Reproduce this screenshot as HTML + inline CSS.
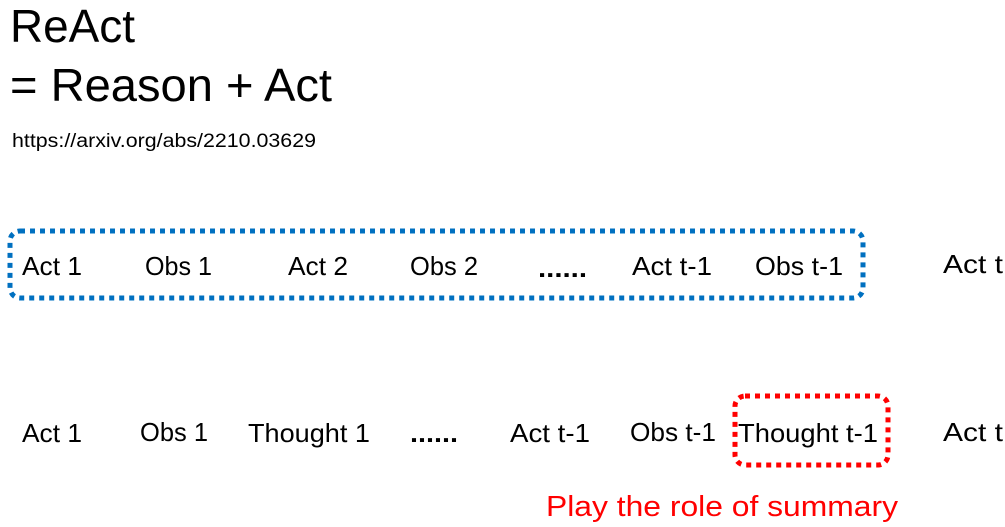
<!DOCTYPE html>
<html><head><style>html,body{margin:0;padding:0;background:#fff;}svg{display:block}</style></head>
<body>
<svg width="1005" height="527" xmlns="http://www.w3.org/2000/svg" font-family="Liberation Sans, sans-serif">
<text x="10" y="42" font-size="46" textLength="125" lengthAdjust="spacingAndGlyphs">ReAct</text>
<text x="10" y="101" font-size="46" textLength="322" lengthAdjust="spacingAndGlyphs">= Reason + Act</text>
<text x="12" y="147" font-size="19" textLength="304" lengthAdjust="spacingAndGlyphs">https://arxiv.org/abs/2210.03629</text>

<rect x="10" y="231" width="853" height="67" rx="10" fill="none" stroke="#0070c0" stroke-width="5" stroke-dasharray="5 5"/>
<g font-size="26">
<text x="22" y="275" textLength="60" lengthAdjust="spacingAndGlyphs">Act 1</text>
<text x="145" y="275" textLength="67" lengthAdjust="spacingAndGlyphs">Obs 1</text>
<text x="288" y="275" textLength="60" lengthAdjust="spacingAndGlyphs">Act 2</text>
<text x="410" y="275" textLength="68" lengthAdjust="spacingAndGlyphs">Obs 2</text>
<text x="538" y="277" font-weight="bold" textLength="49" lengthAdjust="spacingAndGlyphs">......</text>
<text x="632" y="275" textLength="80" lengthAdjust="spacingAndGlyphs">Act t-1</text>
<text x="755" y="275" textLength="88" lengthAdjust="spacingAndGlyphs">Obs t-1</text>
<text x="943" y="273" textLength="60" lengthAdjust="spacingAndGlyphs">Act t</text>

<text x="22" y="442" textLength="60" lengthAdjust="spacingAndGlyphs">Act 1</text>
<text x="140" y="441" textLength="68" lengthAdjust="spacingAndGlyphs">Obs 1</text>
<text x="248" y="442" textLength="122" lengthAdjust="spacingAndGlyphs">Thought 1</text>
<text x="410" y="442" font-weight="bold" textLength="48" lengthAdjust="spacingAndGlyphs">......</text>
<text x="510" y="442" textLength="80" lengthAdjust="spacingAndGlyphs">Act t-1</text>
<text x="630" y="441" textLength="86" lengthAdjust="spacingAndGlyphs">Obs t-1</text>
<text x="738" y="442" textLength="140" lengthAdjust="spacingAndGlyphs">Thought t-1</text>
<text x="943" y="441" textLength="60" lengthAdjust="spacingAndGlyphs">Act t</text>
</g>
<rect x="735" y="396" width="153" height="69" rx="10" fill="none" stroke="#ff0000" stroke-width="5" stroke-dasharray="5 5"/>
<text x="546" y="516" font-size="29" fill="#ff0000" textLength="352" lengthAdjust="spacingAndGlyphs">Play the role of summary</text>
</svg>
</body></html>
